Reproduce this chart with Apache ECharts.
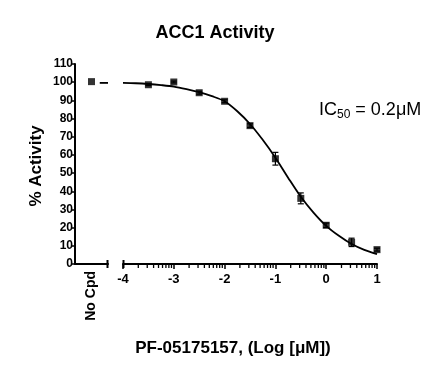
<!DOCTYPE html>
<html>
<head>
<meta charset="utf-8">
<script src="https://cdn.jsdelivr.net/npm/echarts@6/dist/echarts.min.js"></script>
<style>
html,body{margin:0;padding:0;background:#fff;}
#chart{width:447px;height:375px;}
</style>
</head>
<body>
<div id="chart"></div>
<script>
// ---- data ----
const logConc = [-3.5, -3, -2.5, -2, -1.5, -1, -0.5, 0, 0.5, 1];
const activity = [98.6, 100.1, 94.2, 89.5, 76.1, 57.9, 36.1, 21.3, 11.9, 7.9];
const activityErr = [0.5, 0.5, 0.8, 0.8, 1.0, 3.5, 3.0, 1.2, 2.3, 0.8];
const noCpdCategory = ['No Cpd'];
const noCpdActivity = [100.3];
const fitLogConc = [-4, -3.75, -3.5, -3.25, -3, -2.75, -2.5, -2.25, -2, -1.75, -1.5, -1.25, -1, -0.75, -0.5, -0.25, 0, 0.25, 0.5, 0.75, 1];
const fitActivity = [99.6, 99.4, 99.0, 98.4, 97.6, 96.2, 94.5, 92.3, 89.5, 84.0, 77.0, 68.3, 58.5, 47.5, 37.0, 28.3, 21.0, 15.5, 11.0, 7.8, 5.4];
const noCpdPlateauX = [0.75, 1];
const xMajorTicks = [-4, -3, -2, -1, 0, 1];
const minorFactors = [2, 3, 4, 5, 6, 7, 8, 9];

const FONT = "'Liberation Sans', Arial, Helvetica, sans-serif";
const minorTickValues = [];
for (let i = 0; i < xMajorTicks.length - 1; i++) {
  minorFactors.forEach(k => minorTickValues.push(xMajorTicks[i] + Math.log10(k)));
}

const chart = echarts.init(document.getElementById('chart'));
const gridTop = 64, gridBottom = 111;

const textGraphics = [
  {type: 'text', x: 215, y: 33, style: {text: 'ACC1 Activity', font: 'bold 18px ' + FONT, fill: '#000', textAlign: 'center', textVerticalAlign: 'middle'}},
  {type: 'text', x: 233, y: 348, style: {text: 'PF-05175157, (Log [μM])', font: 'bold 17px ' + FONT, fill: '#000', textAlign: 'center', textVerticalAlign: 'middle'}},
  {type: 'text', x: 36, y: 166, rotation: Math.PI / 2, style: {text: '% Activity', font: 'bold 17px ' + FONT, fill: '#000', textAlign: 'center', textVerticalAlign: 'middle'}},
  {type: 'text', x: 319, y: 110, style: {
    text: '{a|IC}{b|50}{a| = 0.2μM}', textAlign: 'left', textVerticalAlign: 'middle',
    rich: {
      a: {fontFamily: FONT, fontSize: 18, fill: '#000', lineHeight: 22, verticalAlign: 'middle'},
      b: {fontFamily: FONT, fontSize: 12, fill: '#000', lineHeight: 12, verticalAlign: 'bottom'}
    }
  }}
];

const option = {
  animation: false,
  backgroundColor: '#fff',
  grid: [
    {left: 75, width: 33, top: gridTop, bottom: gridBottom},
    {left: 123, right: 70, top: gridTop, bottom: gridBottom}
  ],
  xAxis: [
    { // 0: No Cpd category
      type: 'category', gridIndex: 0, data: noCpdCategory, boundaryGap: true,
      axisLine: {lineStyle: {color: '#000', width: 2}, onZero: false},
      axisTick: {alignWithLabel: true, length: 5, lineStyle: {color: '#000', width: 1.5}},
      axisLabel: {rotate: 90, color: '#000', fontFamily: FONT, fontWeight: 'bold', fontSize: 14, margin: 7},
      splitLine: {show: false}
    },
    { // 1: main log-concentration axis
      type: 'value', gridIndex: 1, min: -4, max: 1, interval: 1,
      axisLine: {lineStyle: {color: '#000', width: 2}, onZero: false},
      axisTick: {length: 5, lineStyle: {color: '#000', width: 1.5}},
      axisLabel: {color: '#000', fontFamily: FONT, fontWeight: 'bold', fontSize: 13, margin: 9},
      splitLine: {show: false}
    },
    {type: 'value', gridIndex: 0, min: 0, max: 1, show: false}   // 2: No Cpd helper
  ],
  yAxis: [
    {
      type: 'value', gridIndex: 0, min: 0, max: 110, interval: 10,
      axisLine: {show: true, lineStyle: {color: '#000', width: 2}},
      axisTick: {show: true, length: 4, lineStyle: {color: '#000', width: 1.5}},
      axisLabel: {color: '#000', fontFamily: FONT, fontWeight: 'bold', fontSize: 12, margin: 2},
      splitLine: {show: false}
    },
    {type: 'value', gridIndex: 1, min: 0, max: 110, interval: 10, show: false}
  ],
  series: [
    {
      type: 'scatter', xAxisIndex: 0, yAxisIndex: 0,
      data: noCpdActivity, symbol: 'rect', symbolSize: 7,
      itemStyle: {color: '#000'}, z: 5
    },
    {
      type: 'line', xAxisIndex: 2, yAxisIndex: 0,
      data: noCpdPlateauX.map(x => [x, fitActivity[0]]),
      showSymbol: false, lineStyle: {color: '#000', width: 1.8}
    },
    {
      type: 'line', xAxisIndex: 1, yAxisIndex: 1,
      data: fitLogConc.map((x, i) => [x, fitActivity[i]]),
      smooth: 0.3, showSymbol: false, lineStyle: {color: '#000', width: 1.8}
    },
    {
      type: 'custom', xAxisIndex: 1, yAxisIndex: 1,
      data: logConc.map((x, i) => [x, activity[i] - activityErr[i], activity[i] + activityErr[i]]),
      renderItem: function (params, api) {
        const lo = api.coord([api.value(0), api.value(1)]);
        const hi = api.coord([api.value(0), api.value(2)]);
        const w = 3;
        const st = {stroke: '#000', lineWidth: 1.2};
        return {type: 'group', children: [
          {type: 'line', shape: {x1: lo[0], y1: lo[1], x2: hi[0], y2: hi[1]}, style: st},
          {type: 'line', shape: {x1: lo[0] - w, y1: lo[1], x2: lo[0] + w, y2: lo[1]}, style: st},
          {type: 'line', shape: {x1: hi[0] - w, y1: hi[1], x2: hi[0] + w, y2: hi[1]}, style: st}
        ]};
      },
      z: 4
    },
    {
      type: 'scatter', xAxisIndex: 1, yAxisIndex: 1,
      data: logConc.map((x, i) => [x, activity[i]]),
      symbol: 'rect', symbolSize: 7, itemStyle: {color: '#000'}, z: 5
    }
  ],
  graphic: textGraphics
};
chart.setOption(option);

// Axis decorations placed through the library's own scales (no clipping in graphic layer)
const decor = [];
minorTickValues.forEach(v => {
  const p = chart.convertToPixel({xAxisIndex: 1, yAxisIndex: 1}, [v, 0]);
  if (p) decor.push({type: 'line', z: 100, silent: true,
    shape: {x1: p[0], y1: p[1], x2: p[0], y2: p[1] + 4},
    style: {stroke: '#000', lineWidth: 1.3}});
});
const startP = chart.convertToPixel({xAxisIndex: 1, yAxisIndex: 1}, [xMajorTicks[0], 0]);
if (startP) decor.push({type: 'line', z: 100, silent: true,
  shape: {x1: startP[0] + 0.5, y1: startP[1] - 4, x2: startP[0] + 0.5, y2: startP[1] + 4},
  style: {stroke: '#000', lineWidth: 2}});
const endP = chart.convertToPixel({xAxisIndex: 2, yAxisIndex: 0}, [1, 0]);
if (endP) decor.push({type: 'line', z: 100, silent: true,
  shape: {x1: endP[0] - 0.5, y1: endP[1] - 4, x2: endP[0] - 0.5, y2: endP[1] + 4},
  style: {stroke: '#000', lineWidth: 2}});
chart.setOption({graphic: textGraphics.concat(decor)});
</script>
</body>
</html>
